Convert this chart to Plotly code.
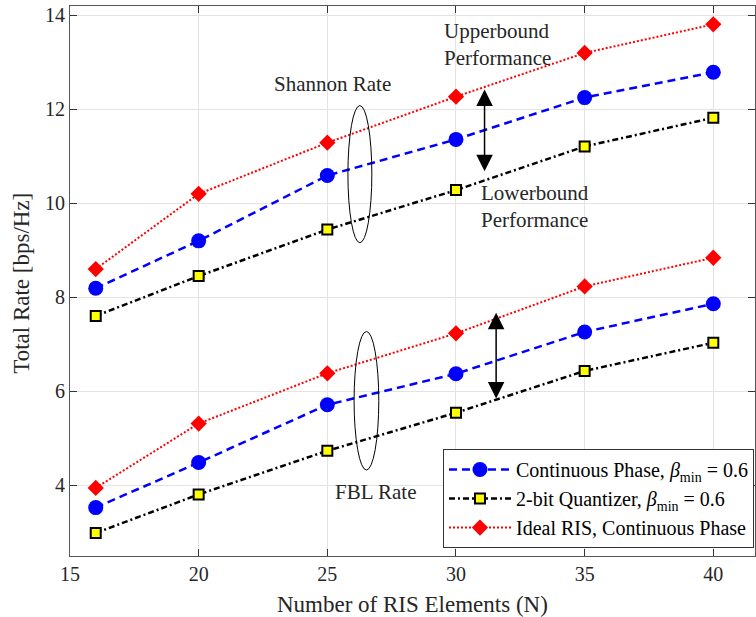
import plotly.graph_objects as go

N = [16, 20, 25, 30, 35, 40]

# Shannon rate
shannon_cont = [8.19, 9.20, 10.59, 11.36, 12.25, 12.79]
shannon_2bit = [7.60, 8.45, 9.44, 10.28, 11.21, 11.82]
shannon_ideal = [8.60, 10.20, 11.29, 12.27, 13.20, 13.81]

# FBL rate
fbl_cont = [3.52, 4.48, 5.71, 6.37, 7.26, 7.86]
fbl_2bit = [2.98, 3.80, 4.73, 5.54, 6.43, 7.03]
fbl_ideal = [3.94, 5.31, 6.38, 7.23, 8.23, 8.84]

x_ticks = [15, 20, 25, 30, 35, 40]
y_ticks = [4, 6, 8, 10, 12, 14]

names = [
    "Continuous Phase, <i>β</i><sub>min</sub> = 0.6",
    "2-bit Quantizer, <i>β</i><sub>min</sub> = 0.6",
    "Ideal RIS, Continuous Phase",
]

FONT = "Liberation Serif"
TXT = "#262626"

fig = go.Figure()

blue_style = dict(mode="lines+markers",
                  line=dict(color="#0000ff", width=2.5, dash="8px,5px"),
                  marker=dict(symbol="circle", size=15, color="#0000ff"))
black_style = dict(mode="lines+markers",
                   line=dict(color="#000000", width=2.5, dash="6px,3px,2px,3px"),
                   marker=dict(symbol="square", size=10, color="#ffff00",
                               line=dict(color="#000000", width=2)))
red_style = dict(mode="lines+markers",
                 line=dict(color="#ff0000", width=2, dash="2px,2px"),
                 marker=dict(symbol="diamond", size=12.5, color="#ff0000"))

fig.add_trace(go.Scatter(x=N, y=shannon_cont, name=names[0], legendgroup="a", **blue_style))
fig.add_trace(go.Scatter(x=N, y=shannon_2bit, name=names[1], legendgroup="b", **black_style))
fig.add_trace(go.Scatter(x=N, y=shannon_ideal, name=names[2], legendgroup="c", **red_style))
fig.add_trace(go.Scatter(x=N, y=fbl_cont, name=names[0], legendgroup="a", showlegend=False, **blue_style))
fig.add_trace(go.Scatter(x=N, y=fbl_2bit, name=names[1], legendgroup="b", showlegend=False, **black_style))
fig.add_trace(go.Scatter(x=N, y=fbl_ideal, name=names[2], legendgroup="c", showlegend=False, **red_style))

# ellipses
fig.add_shape(type="circle", xref="x", yref="y", x0=25.80, x1=26.73, y0=9.16, y1=12.08,
              line=dict(color="black", width=1))
fig.add_shape(type="circle", xref="x", yref="y", x0=26.04, x1=27.0, y0=4.32, y1=7.27,
              line=dict(color="black", width=1))

# double arrows
for xa, ytop, ybot in [(31.11, 12.42, 10.65), (31.56, 7.67, 5.81)]:
    fig.add_annotation(x=xa, y=ytop, ax=xa, ay=ybot, xref="x", yref="y", axref="x", ayref="y",
                       text="", showarrow=True, arrowhead=2, startarrowhead=2,
                       arrowside="end+start", arrowsize=2.2, startarrowsize=2.2,
                       arrowwidth=1.5, arrowcolor="black")

ann_font = dict(family=FONT, size=21, color=TXT)
fig.add_annotation(x=25.22, y=12.53, text="Shannon Rate", showarrow=False, font=ann_font,
                   xanchor="center", yanchor="middle")
fig.add_annotation(x=29.45, y=13.39, text="Upperbound<br>Performance", showarrow=False,
                   font=ann_font, xanchor="left", yanchor="middle", align="left")
fig.add_annotation(x=30.90, y=9.93, text="Lowerbound<br>Performance", showarrow=False,
                   font=ann_font, xanchor="left", yanchor="middle", align="left")
fig.add_annotation(x=26.89, y=3.857, text="FBL Rate", showarrow=False, font=ann_font,
                   xanchor="center", yanchor="middle")

# axis titles
fig.add_annotation(x=0.5, y=-0.088, xref="paper", yref="paper", text="Number of RIS Elements (N)",
                   showarrow=False, font=dict(family=FONT, size=23, color=TXT),
                   xanchor="center", yanchor="middle")
fig.add_annotation(x=-0.07, y=0.495, xref="paper", yref="paper", text="Total Rate [bps/Hz]",
                   showarrow=False, textangle=-90, font=dict(family=FONT, size=23, color=TXT),
                   xanchor="center", yanchor="middle")

axis_common = dict(showline=True, linecolor="#555555", linewidth=1, mirror="ticks",
                   ticks="inside", ticklen=7, tickcolor="#333333", tickwidth=1,
                   showgrid=True, gridcolor="#e3e3e3", gridwidth=1, zeroline=False,
                   tickfont=dict(family=FONT, size=20, color=TXT))

fig.update_xaxes(range=[15, 41.62], tickvals=x_ticks, ticktext=[str(v) for v in x_ticks], **axis_common)
fig.update_yaxes(range=[2.49, 14.2], tickvals=y_ticks, ticktext=[str(v) for v in y_ticks], **axis_common)

fig.update_layout(
    width=756, height=617,
    margin=dict(l=70, r=1, t=6, b=61),
    paper_bgcolor="white", plot_bgcolor="white",
    font=dict(family=FONT, color=TXT),
    legend=dict(x=0.9985, y=0.0145, xanchor="right", yanchor="bottom",
                bgcolor="white", bordercolor="#333333", borderwidth=1,
                font=dict(family=FONT, size=20, color="black"),
                itemwidth=62, tracegroupgap=0),
    showlegend=True,
)

fig.write_html("out.html")
